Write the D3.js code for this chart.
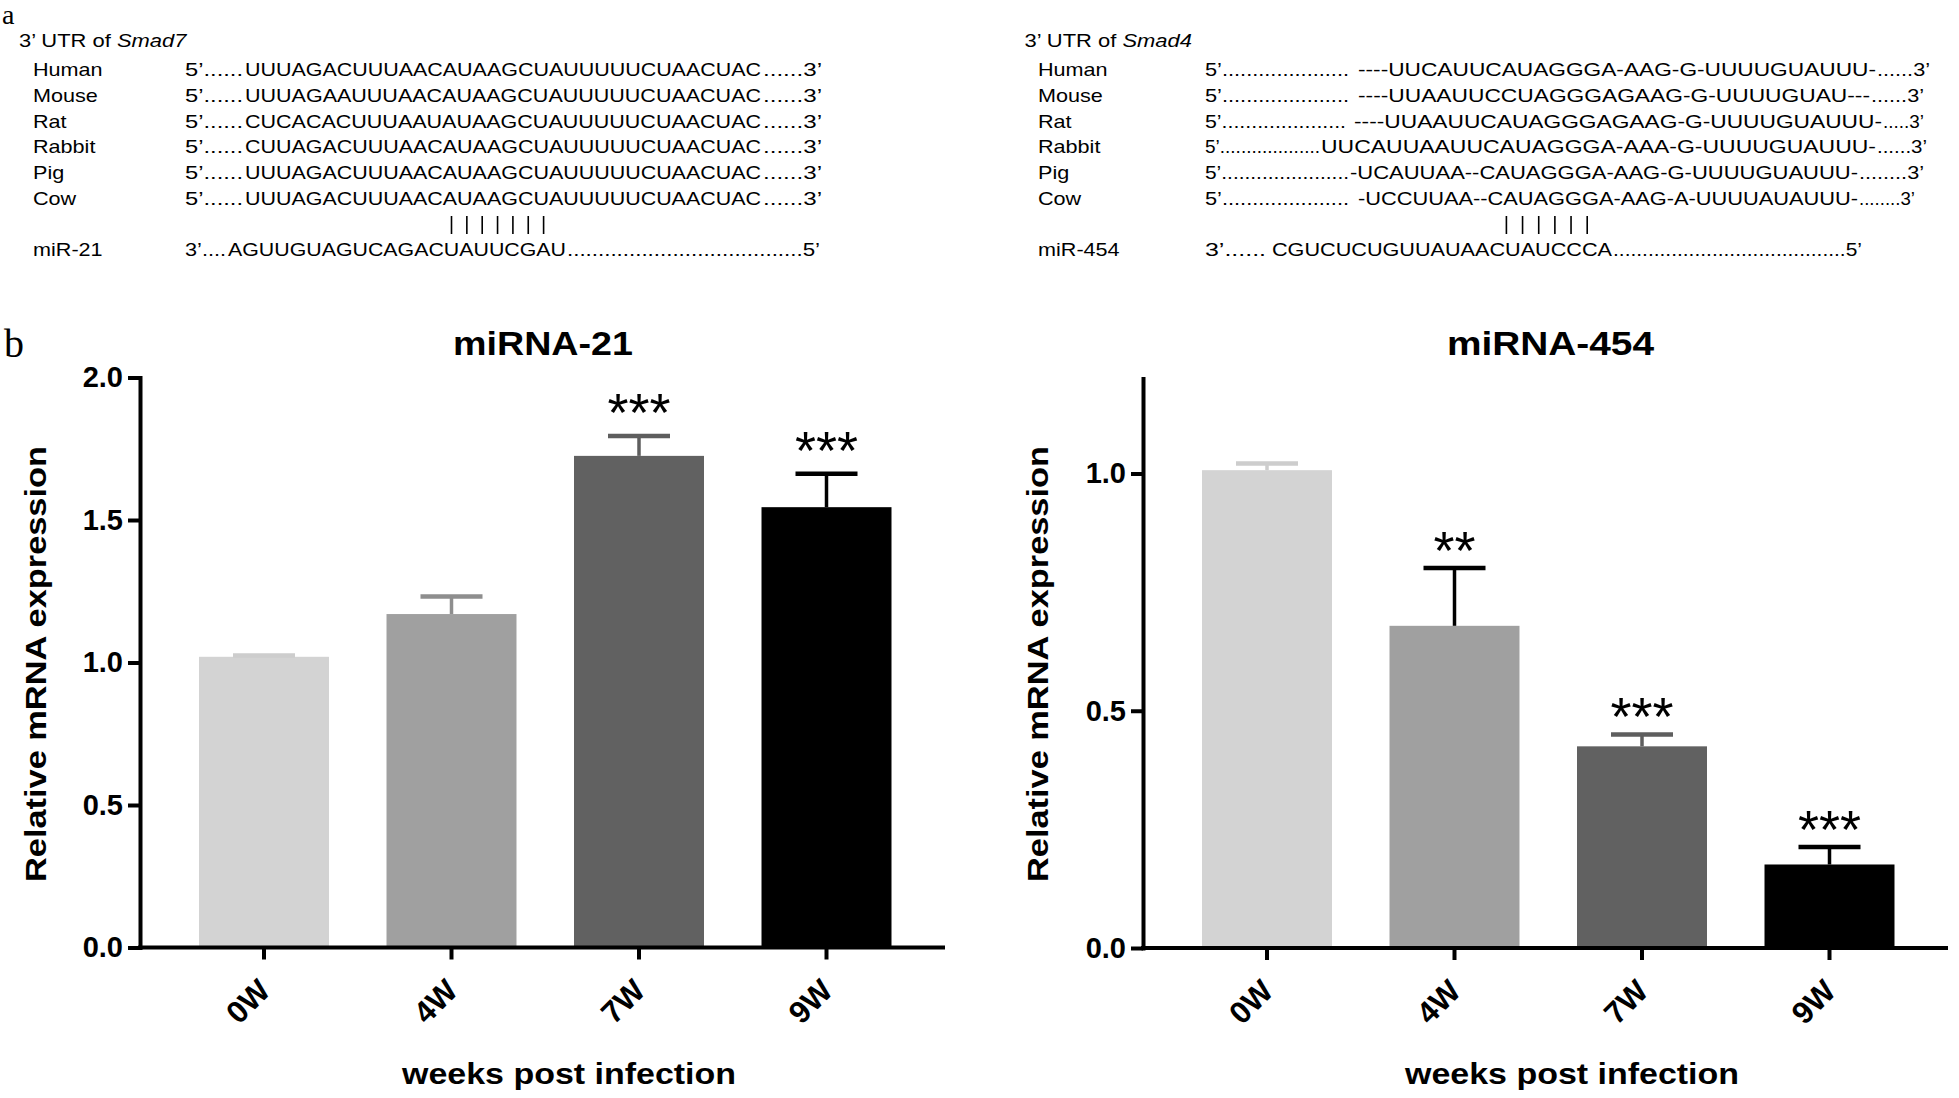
<!DOCTYPE html>
<html>
<head>
<meta charset="utf-8">
<script src="https://cdn.jsdelivr.net/npm/d3@7"></script>
<style>
  body { margin: 0; background: #fff; }
  svg { display: block; }
</style>
</head>
<body>
<svg id="fig" width="1959" height="1098"></svg>
<script>
// ---------------- DATA ----------------
const categories = ["0W", "4W", "7W", "9W"];
const barColors = ["#d3d3d3", "#a0a0a0", "#616161", "#000000"];

const mir21Mean = [1.02, 1.17, 1.725, 1.545];
const mir21ErrUp = [0.005, 0.062, 0.07, 0.117];
const mir21Sig = ["", "", "***", "***"];
const mir21ErrColors = ["#cdcdcd", "#8e8e8e", "#5e5e5e", "#000000"];
const mir21Ticks = [0, 0.5, 1.0, 1.5, 2.0];

const mir454Mean = [1.007, 0.679, 0.425, 0.176];
const mir454ErrUp = [0.014, 0.122, 0.025, 0.037];
const mir454Sig = ["", "**", "***", "***"];
const mir454ErrColors = ["#cdcdcd", "#000000", "#5e5e5e", "#000000"];
const mir454Ticks = [0, 0.5, 1.0];

const species = ["Human", "Mouse", "Rat", "Rabbit", "Pig", "Cow"];
const smad7Cores = [
  "UUUAGACUUUAACAUAAGCUAUUUUUCUAACUAC",
  "UUUAGAAUUUAACAUAAGCUAUUUUUCUAACUAC",
  "CUCACACUUUAAUAUAAGCUAUUUUUCUAACUAC",
  "CUUAGACUUUAACAUAAGCUAUUUUUCUAACUAC",
  "UUUAGACUUUAACAUAAGCUAUUUUUCUAACUAC",
  "UUUAGACUUUAACAUAAGCUAUUUUUCUAACUAC"
];
const mir21Seq = "AGUUGUAGUCAGACUAUUCGAU";
const smad4Cores = [
  "----UUCAUUCAUAGGGA-AAG-G-UUUUGUAUUU-",
  "----UUAAUUCCUAGGGAGAAG-G-UUUUGUAU---",
  "----UUAAUUCAUAGGGAGAAG-G-UUUUGUAUUU-",
  "UUCAUUAAUUCAUAGGGA-AAA-G-UUUUGUAUUU-",
  "-UCAUUAA--CAUAGGGA-AAG-G-UUUUGUAUUU-",
  "-UCCUUAA--CAUAGGGA-AAG-A-UUUUAUAUUU-"
];
const smad4Prefix = ["5’.....................", "5’.....................", "5’.....................",
                     "5’...................", "5’......................", "5’....................."];
const smad4Suffix = ["......3’", "......3’", ".....3’", "......3’", "........3’", "........3’"];
const mir454Seq = "CGUCUCUGUUAUAACUAUCCCA";

// ---------------- LAYOUT ----------------
const svg = d3.select("#fig");
const SANS = "'Liberation Sans', Arial, Helvetica, sans-serif";
const SERIF = "'Liberation Serif', 'Times New Roman', serif";

// panel letters
svg.append("text").attr("x", 2).attr("y", 24).attr("font-family", SERIF).attr("font-size", 28).text("a");
svg.append("text").attr("x", 4).attr("y", 357).attr("font-family", SERIF).attr("font-size", 40).text("b");

// ---------------- PANEL a ----------------
const pa = svg.append("g").attr("font-family", SANS).attr("font-size", 18).attr("fill", "#000");
const rowY = [76, 102, 127.5, 153, 179, 204.5];
const mirRowY = 256;

function stretched(parent, x, y, sx) {
  return parent.append("g").attr("transform", `translate(${x},${y}) scale(${sx},1)`)
    .append("text").attr("x", 0).attr("y", 0);
}
function fit(parent, x0, x1, y, str) {
  parent.append("text").attr("x", x0).attr("y", y)
    .attr("textLength", x1 - x0).attr("lengthAdjust", "spacingAndGlyphs").text(str);
}

// left block (Smad7 / miR-21)
{
  const h = stretched(pa, 19, 47, 1.22);
  h.append("tspan").text("3’ UTR of ");
  h.append("tspan").attr("font-style", "italic").text("Smad7");
  species.forEach((s, i) => {
    stretched(pa, 33, rowY[i], 1.2).text(s);
    fit(pa, 185, 243, rowY[i], "5’......");
    fit(pa, 245, 761, rowY[i], smad7Cores[i]);
    fit(pa, 763, 822, rowY[i], "......3’");
  });
  const bx = d3.range(7).map(k => 451.5 + k * 15.35);
  pa.selectAll(null).data(bx).join("line")
    .attr("x1", d => d).attr("x2", d => d).attr("y1", 216).attr("y2", 234)
    .attr("stroke", "#000").attr("stroke-width", 1.6);
  stretched(pa, 33, mirRowY, 1.2).text("miR-21");
  fit(pa, 185, 226, mirRowY, "3’....");
  fit(pa, 228, 566, mirRowY, mir21Seq);
  fit(pa, 567, 820, mirRowY, "......................................5’");
}

// right block (Smad4 / miR-454)
{
  const h = stretched(pa, 1024.5, 47, 1.22);
  h.append("tspan").text("3’ UTR of ");
  h.append("tspan").attr("font-style", "italic").text("Smad4");
  const coreStart = [1358, 1358, 1354, 1321, 1350, 1358];
  const prefixEnd = [1349, 1349, 1346, 1320, 1349, 1349];
  const coreEnd = [1876, 1870, 1882, 1876, 1858, 1858];
  const rowEnd = [1930, 1924, 1924, 1927, 1924, 1915];
  species.forEach((s, i) => {
    stretched(pa, 1038, rowY[i], 1.2).text(s);
    fit(pa, 1205, prefixEnd[i], rowY[i], smad4Prefix[i]);
    fit(pa, coreStart[i], coreEnd[i], rowY[i], smad4Cores[i]);
    fit(pa, coreEnd[i] + 1, rowEnd[i], rowY[i], smad4Suffix[i]);
  });
  const bx = d3.range(6).map(k => 1506.4 + k * 16.16);
  pa.selectAll(null).data(bx).join("line")
    .attr("x1", d => d).attr("x2", d => d).attr("y1", 216).attr("y2", 234)
    .attr("stroke", "#000").attr("stroke-width", 1.6);
  stretched(pa, 1038, mirRowY, 1.2).text("miR-454");
  fit(pa, 1205, 1266, mirRowY, "3’......");
  fit(pa, 1272, 1612, mirRowY, mir454Seq);
  fit(pa, 1613, 1862, mirRowY, "........................................5’");
}

// ---------------- PANEL b ----------------
function drawChart(cfg) {
  const g = svg.append("g").attr("font-family", SANS);
  const y = d3.scaleLinear().domain([0, cfg.yMax]).range([cfg.y0, cfg.yTop]);
  const x = d3.scaleBand().domain(categories)
    .range([cfg.axisX + 30.25, cfg.axisX + 780.25])
    .paddingInner(0.3067).paddingOuter(0.15335);
  const bw = x.bandwidth();

  // bars
  g.selectAll("rect.bar").data(categories).join("rect").attr("class", "bar")
    .attr("x", d => x(d)).attr("width", bw)
    .attr("y", (d, i) => y(cfg.mean[i]))
    .attr("height", (d, i) => y(0) - y(cfg.mean[i]))
    .attr("fill", (d, i) => barColors[i]);

  // error bars
  const eb = g.selectAll("g.err").data(categories).join("g").attr("class", "err");
  eb.append("line")
    .attr("x1", d => x(d) + bw / 2).attr("x2", d => x(d) + bw / 2)
    .attr("y1", (d, i) => y(cfg.mean[i]))
    .attr("y2", (d, i) => y(cfg.mean[i] + cfg.err[i]))
    .attr("stroke", (d, i) => cfg.errColors[i]).attr("stroke-width", 3.5);
  eb.append("line")
    .attr("x1", d => x(d) + bw / 2 - 31).attr("x2", d => x(d) + bw / 2 + 31)
    .attr("y1", (d, i) => y(cfg.mean[i] + cfg.err[i]))
    .attr("y2", (d, i) => y(cfg.mean[i] + cfg.err[i]))
    .attr("stroke", (d, i) => cfg.errColors[i]).attr("stroke-width", 4.5);

  // significance stars
  g.selectAll("text.sig").data(categories).join("text").attr("class", "sig")
    .attr("x", d => x(d) + bw / 2)
    .attr("y", (d, i) => y(cfg.mean[i] + cfg.err[i]) + cfg.starOffset)
    .attr("text-anchor", "middle").attr("font-size", 54)
    .text((d, i) => cfg.sig[i]);

  // y axis
  const ya = g.append("g").attr("transform", `translate(${cfg.axisX},0)`)
    .call(d3.axisLeft(y).tickValues(cfg.ticks).tickSize(12).tickSizeOuter(0)
      .tickPadding(5).tickFormat(d3.format(".1f")));
  ya.select(".domain").attr("stroke", "#000").attr("stroke-width", 4).attr("stroke-linecap", "square");
  ya.selectAll(".tick line").attr("stroke", "#000").attr("stroke-width", 4);
  ya.selectAll(".tick text").attr("font-family", SANS).attr("font-size", 29)
    .attr("font-weight", "bold").attr("fill", "#000");

  // x axis
  const xa = g.append("g").attr("transform", `translate(0,${cfg.y0})`)
    .call(d3.axisBottom(x).tickSize(12).tickSizeOuter(0));
  xa.select(".domain").remove();
  xa.selectAll(".tick line").attr("stroke", "#000").attr("stroke-width", 4);
  xa.selectAll(".tick text").attr("font-family", SANS).attr("font-size", 31)
    .attr("font-weight", "bold").attr("fill", "#000")
    .attr("y", 0).attr("dy", 0).attr("text-anchor", "end")
    .attr("transform", "translate(8,45) rotate(-45)");
  g.append("line").attr("x1", cfg.axisX - 2).attr("x2", cfg.xEnd)
    .attr("y1", cfg.y0).attr("y2", cfg.y0)
    .attr("stroke", "#000").attr("stroke-width", 4);

  // titles and labels
  g.append("text").attr("x", cfg.titleX).attr("y", 355).attr("text-anchor", "middle")
    .attr("font-size", 34).attr("font-weight", "bold")
    .attr("textLength", cfg.titleLen).attr("lengthAdjust", "spacingAndGlyphs")
    .text(cfg.title);
  g.append("text").attr("transform", `translate(${cfg.yLabelX},664) rotate(-90)`)
    .attr("text-anchor", "middle").attr("font-size", 30).attr("font-weight", "bold")
    .attr("textLength", 436).attr("lengthAdjust", "spacingAndGlyphs")
    .text("Relative mRNA expression");
  g.append("text").attr("x", cfg.axisX + 429).attr("y", 1084).attr("text-anchor", "middle")
    .attr("font-size", 29).attr("font-weight", "bold")
    .attr("textLength", 334).attr("lengthAdjust", "spacingAndGlyphs")
    .text("weeks post infection");
}

drawChart({
  axisX: 140, y0: 947.5, yTop: 377.5, yMax: 2.0, ticks: mir21Ticks,
  mean: mir21Mean, err: mir21ErrUp, sig: mir21Sig, errColors: mir21ErrColors,
  starOffset: -5, xEnd: 945, title: "miRNA-21", titleX: 543, titleLen: 180, yLabelX: 45.5
});
drawChart({
  axisX: 1143, y0: 948, yTop: 948 - 1.2 * 474.5, yMax: 1.2, ticks: mir454Ticks,
  mean: mir454Mean, err: mir454ErrUp, sig: mir454Sig, errColors: mir454ErrColors,
  starOffset: 1, xEnd: 1948, title: "miRNA-454", titleX: 1550.5, titleLen: 207, yLabelX: 1047.5
});
</script>
</body>
</html>
